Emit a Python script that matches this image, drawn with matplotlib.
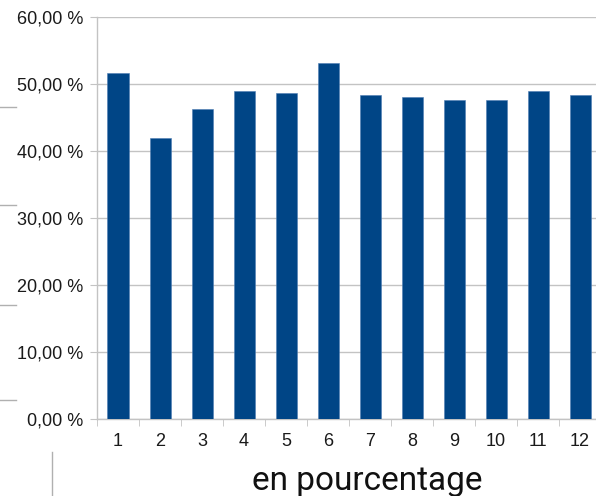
import numpy as np
import matplotlib.pyplot as plt
from matplotlib.ticker import FuncFormatter, MultipleLocator, FixedLocator

# monthly share, in percent
months = [1, 2, 3, 4, 5, 6, 7, 8, 9, 10, 11, 12]
values = [51.6, 41.9, 46.3, 49.0, 48.6, 53.2, 48.4, 48.0, 47.6, 47.6, 48.9, 48.4]
title = 'en pourcentage'

plt.rcParams['font.family'] = ['Liberation Sans', 'DejaVu Sans']

fig = plt.figure(figsize=(5.96, 4.96), dpi=100)
ax = fig.add_axes([97 / 596, 77 / 496, 504 / 596, 402 / 496])

grid_c = '#c3c3c3'
ax.bar(months, values, width=0.5, color='#004586', edgecolor='#4d7db3', linewidth=0.4, zorder=3)

ax.set_xlim(0.5, 12.5)
ax.set_ylim(0, 60)
ax.yaxis.set_major_locator(MultipleLocator(10))
ax.yaxis.set_major_formatter(FuncFormatter(lambda v, p: '{:.2f} %'.format(v).replace('.', ',')))
ax.set_xticks(months)
ax.set_xticklabels([str(m) for m in months])
ax.xaxis.set_minor_locator(FixedLocator(np.arange(0.5, 13, 1)))

ax.grid(axis='y', color=grid_c, linewidth=1, zorder=0)
for s in ['top', 'right']:
    ax.spines[s].set_visible(False)
for s in ['left', 'bottom']:
    ax.spines[s].set_color(grid_c)
    ax.spines[s].set_linewidth(1)

ax.tick_params(axis='y', length=5, color=grid_c, pad=5, labelsize=13, labelcolor='#1a1a1a')
ax.tick_params(axis='x', which='major', length=0, pad=10, labelsize=13, labelcolor='#1a1a1a')
ax.tick_params(axis='x', which='minor', length=5, color=grid_c)

fig.text(367 / 596, 1 - 481 / 496, title, ha='center', va='center', fontsize=24,
         family=['Roboto', 'DejaVu Sans'], color='#111111')

# stray marks at the left border
line_c = '#b0b0b0'
for yy in [107, 205, 305, 400]:
    fig.add_artist(plt.Line2D([0, 16 / 596], [1 - yy / 496, 1 - yy / 496], color=line_c, lw=1))
fig.add_artist(plt.Line2D([52 / 596, 52 / 596], [0, 1 - 452 / 496], color=line_c, lw=1))

fig.savefig('out.png', dpi=100)
